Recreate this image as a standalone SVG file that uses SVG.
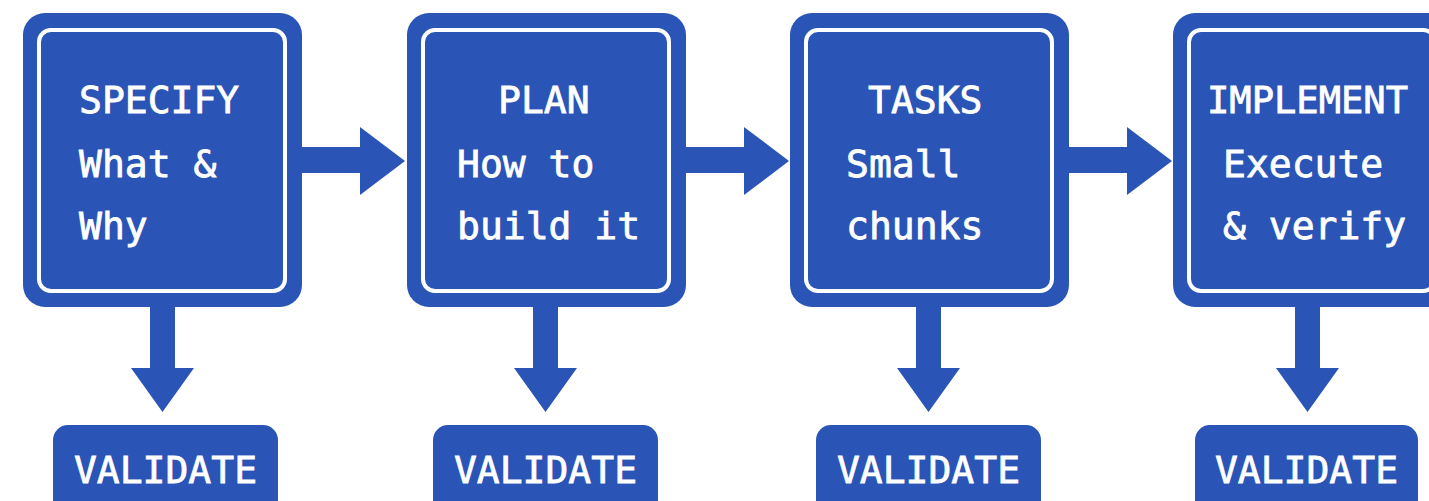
<svg xmlns="http://www.w3.org/2000/svg" width="1429" height="501" viewBox="0 0 1429 501">
  <style>
    .outer { fill: #2a55b6; }
    .inner { fill: none; stroke: #ffffff; stroke-width: 4; }
    .arrow { fill: #2a55b6; }
    .label { fill: #ffffff; stroke: #ffffff; stroke-width: 0.8; font-family: "DejaVu Sans Mono", "Liberation Mono", monospace; font-size: 38px; }
    .mid { text-anchor: middle; }
  </style>
  <rect width="1429" height="501" fill="#ffffff"/>

  <!-- connectors: step-to-step arrows and step-to-validate arrows -->
  <g id="connectors" class="arrow">
    <polygon points="300,147 360,147 360,127 405,161 360,195 360,173 300,173"/>
    <polygon points="683,147 744,147 744,127 789,161 744,195 744,173 683,173"/>
    <polygon points="1066,147 1127,147 1127,127 1172,161 1127,195 1127,173 1066,173"/>
    <polygon points="150,305 175,305 175,368 194,368 162.5,412 131,368 150,368"/>
    <polygon points="533,305 558,305 558,368 577,368 545.5,412 514,368 533,368"/>
    <polygon points="916,305 941,305 941,368 960,368 928.5,412 897,368 916,368"/>
    <polygon points="1295,305 1320,305 1320,368 1339,368 1307.5,412 1276,368 1295,368"/>
  </g>

  <g id="specify">
    <rect class="outer" x="23" y="13" width="279" height="294" rx="22"/>
    <rect class="inner" x="39" y="30" width="246" height="261" rx="12"/>
    <text class="label" x="79" y="113">SPECIFY</text>
    <text class="label" x="79" y="177">What &amp;</text>
    <text class="label" x="79" y="239">Why</text>
  </g>

  <g id="plan">
    <rect class="outer" x="407" y="13" width="279" height="294" rx="22"/>
    <rect class="inner" x="423" y="30" width="246" height="261" rx="12"/>
    <text class="label" x="498" y="113">PLAN</text>
    <text class="label" x="457" y="177">How to</text>
    <text class="label" x="457" y="239">build it</text>
  </g>

  <g id="tasks">
    <rect class="outer" x="790" y="13" width="279" height="294" rx="22"/>
    <rect class="inner" x="806" y="30" width="246" height="261" rx="12"/>
    <text class="label" x="868" y="113">TASKS</text>
    <text class="label" x="846" y="177">Small</text>
    <text class="label" x="846" y="239">chunks</text>
  </g>

  <g id="implement">
    <rect class="outer" x="1173" y="13" width="279" height="294" rx="22"/>
    <rect class="inner" x="1189" y="30" width="246" height="261" rx="12"/>
    <text class="label" x="1207" y="113" textLength="201" lengthAdjust="spacingAndGlyphs">IMPLEMENT</text>
    <text class="label" x="1223" y="177">Execute</text>
    <text class="label" x="1223" y="239">&amp; verify</text>
  </g>

  <g id="validate-specify">
    <rect class="outer" x="53" y="425" width="225" height="95" rx="15"/>
    <text class="label mid" x="165.5" y="483">VALIDATE</text>
  </g>
  <g id="validate-plan">
    <rect class="outer" x="433" y="425" width="225" height="95" rx="15"/>
    <text class="label mid" x="545.5" y="483">VALIDATE</text>
  </g>
  <g id="validate-tasks">
    <rect class="outer" x="816" y="425" width="225" height="95" rx="15"/>
    <text class="label mid" x="928.5" y="483">VALIDATE</text>
  </g>
  <g id="validate-implement">
    <rect class="outer" x="1195" y="425" width="223" height="95" rx="15"/>
    <text class="label mid" x="1306.5" y="483">VALIDATE</text>
  </g>
</svg>
